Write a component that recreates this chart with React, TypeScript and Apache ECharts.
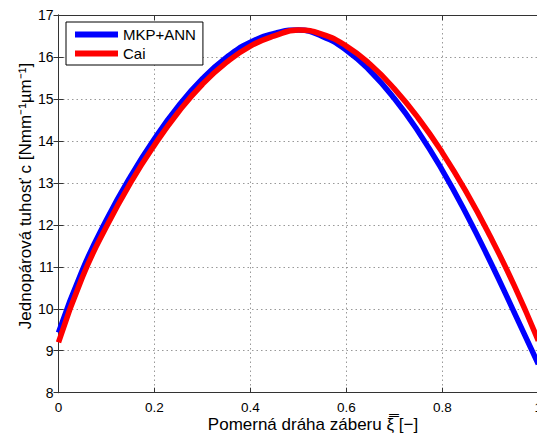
import React, { useEffect, useRef } from "react";
import * as echarts from "echarts";

const xi = [0, 0.05, 0.1, 0.15, 0.2, 0.25, 0.3, 0.35, 0.4, 0.45, 0.5, 0.55, 0.6, 0.65, 0.7, 0.75, 0.8, 0.85, 0.9, 0.95, 1.0];
const cMkpAnn = [9.43, 10.93, 12.12, 13.15, 14.05, 14.83, 15.48, 15.99, 16.35, 16.56, 16.64, 16.49, 16.16, 15.66, 15.01, 14.22, 13.3, 12.26, 11.12, 9.91, 8.68];
const cCai = [9.2, 10.76, 11.96, 13.0, 13.9, 14.69, 15.35, 15.87, 16.26, 16.5, 16.64, 16.54, 16.26, 15.82, 15.24, 14.54, 13.72, 12.78, 11.72, 10.55, 9.24];
const seriesNames = ["MKP+ANN", "Cai"];
const xTicks = { min: 0, max: 1, interval: 0.2 };
const yTicks = { min: 8, max: 17, interval: 1 };

const FONT = "'Liberation Sans', Arial, Helvetica, sans-serif";

export default function App() {
  const ref = useRef<HTMLDivElement>(null);
  useEffect(() => {
    if (!ref.current) return;
    const chart = echarts.init(ref.current, null, { renderer: "svg" });
    const axisLine = { show: true, lineStyle: { color: "#333", width: 1 } };
    const tick = { show: true, inside: true, length: 5, lineStyle: { color: "#333" } };
    const grid = { show: true, lineStyle: { color: "#999", type: [1.5, 3], width: 1 } };
    chart.setOption({
      animation: false,
      backgroundColor: "#fff",
      grid: {
        left: 58.5,
        top: 15,
        right: -1.3,
        bottom: 43.3,
        containLabel: false,
        outerBoundsMode: "none",
      },
      legend: {
        orient: "vertical",
        left: 66,
        top: 22,
        data: seriesNames.map((n) => ({ name: n, icon: "rect" })),
        itemWidth: 43,
        itemHeight: 6,
        itemGap: 4,
        padding: [5, 7, 4, 9],
        borderColor: "#000",
        borderWidth: 1,
        backgroundColor: "#fff",
        textStyle: { fontFamily: FONT, fontSize: 15, color: "#000", lineHeight: 14 },
      },
      xAxis: [
        {
          type: "value",
          ...xTicks,
          axisLine,
          axisTick: tick,
          splitLine: grid,
          axisLabel: {
            fontFamily: FONT,
            fontSize: 13.5,
            lineHeight: 13,
            color: "#000",
            margin: 8,
            formatter: (v: number) => String(Math.round(v * 10) / 10),
          },
        },
        {
          type: "value",
          position: "top",
          ...xTicks,
          axisLine,
          axisTick: tick,
          splitLine: { show: false },
          axisLabel: { show: false },
        },
      ],
      yAxis: [
        {
          type: "value",
          ...yTicks,
          axisLine,
          axisTick: tick,
          splitLine: grid,
          axisLabel: { fontFamily: FONT, fontSize: 14, color: "#000", margin: 5 },
        },
        {
          type: "value",
          position: "right",
          ...yTicks,
          axisLine,
          axisTick: tick,
          splitLine: { show: false },
          axisLabel: { show: false },
        },
      ],
      graphic: [
        {
          type: "text",
          x: 313,
          y: 424,
          style: {
            text: "Pomerná dráha záberu ξ\u033F [−]",
            fontFamily: FONT,
            fontSize: 17,
            lineHeight: 14,
            fill: "#000",
            align: "center",
            verticalAlign: "middle",
          },
        },
        {
          type: "text",
          x: 25,
          y: 196,
          rotation: Math.PI / 2,
          style: {
            text: "Jednopárová tuhosť c [Nmm⁻¹µm⁻¹]",
            fontFamily: FONT,
            fontSize: 17,
            fill: "#000",
            align: "center",
            verticalAlign: "middle",
          },
        },
      ],
      series: [
        {
          name: seriesNames[0],
          type: "line",
          smooth: true,
          showSymbol: false,
          symbol: "none",
          color: "#0000ff",
          lineStyle: { color: "#0000ff", width: 5.5 },
          data: xi.map((x, i) => [x, cMkpAnn[i]]),
          clip: true,
        },
        {
          name: seriesNames[1],
          type: "line",
          smooth: true,
          showSymbol: false,
          symbol: "none",
          color: "#ff0000",
          lineStyle: { color: "#ff0000", width: 5.5 },
          data: xi.map((x, i) => [x, cCai[i]]),
          clip: true,
        },
      ],
    });
    return () => chart.dispose();
  }, []);
  return <div ref={ref} style={{ width: 537, height: 436, position: "absolute", left: 0, top: 0 }} />;
}
